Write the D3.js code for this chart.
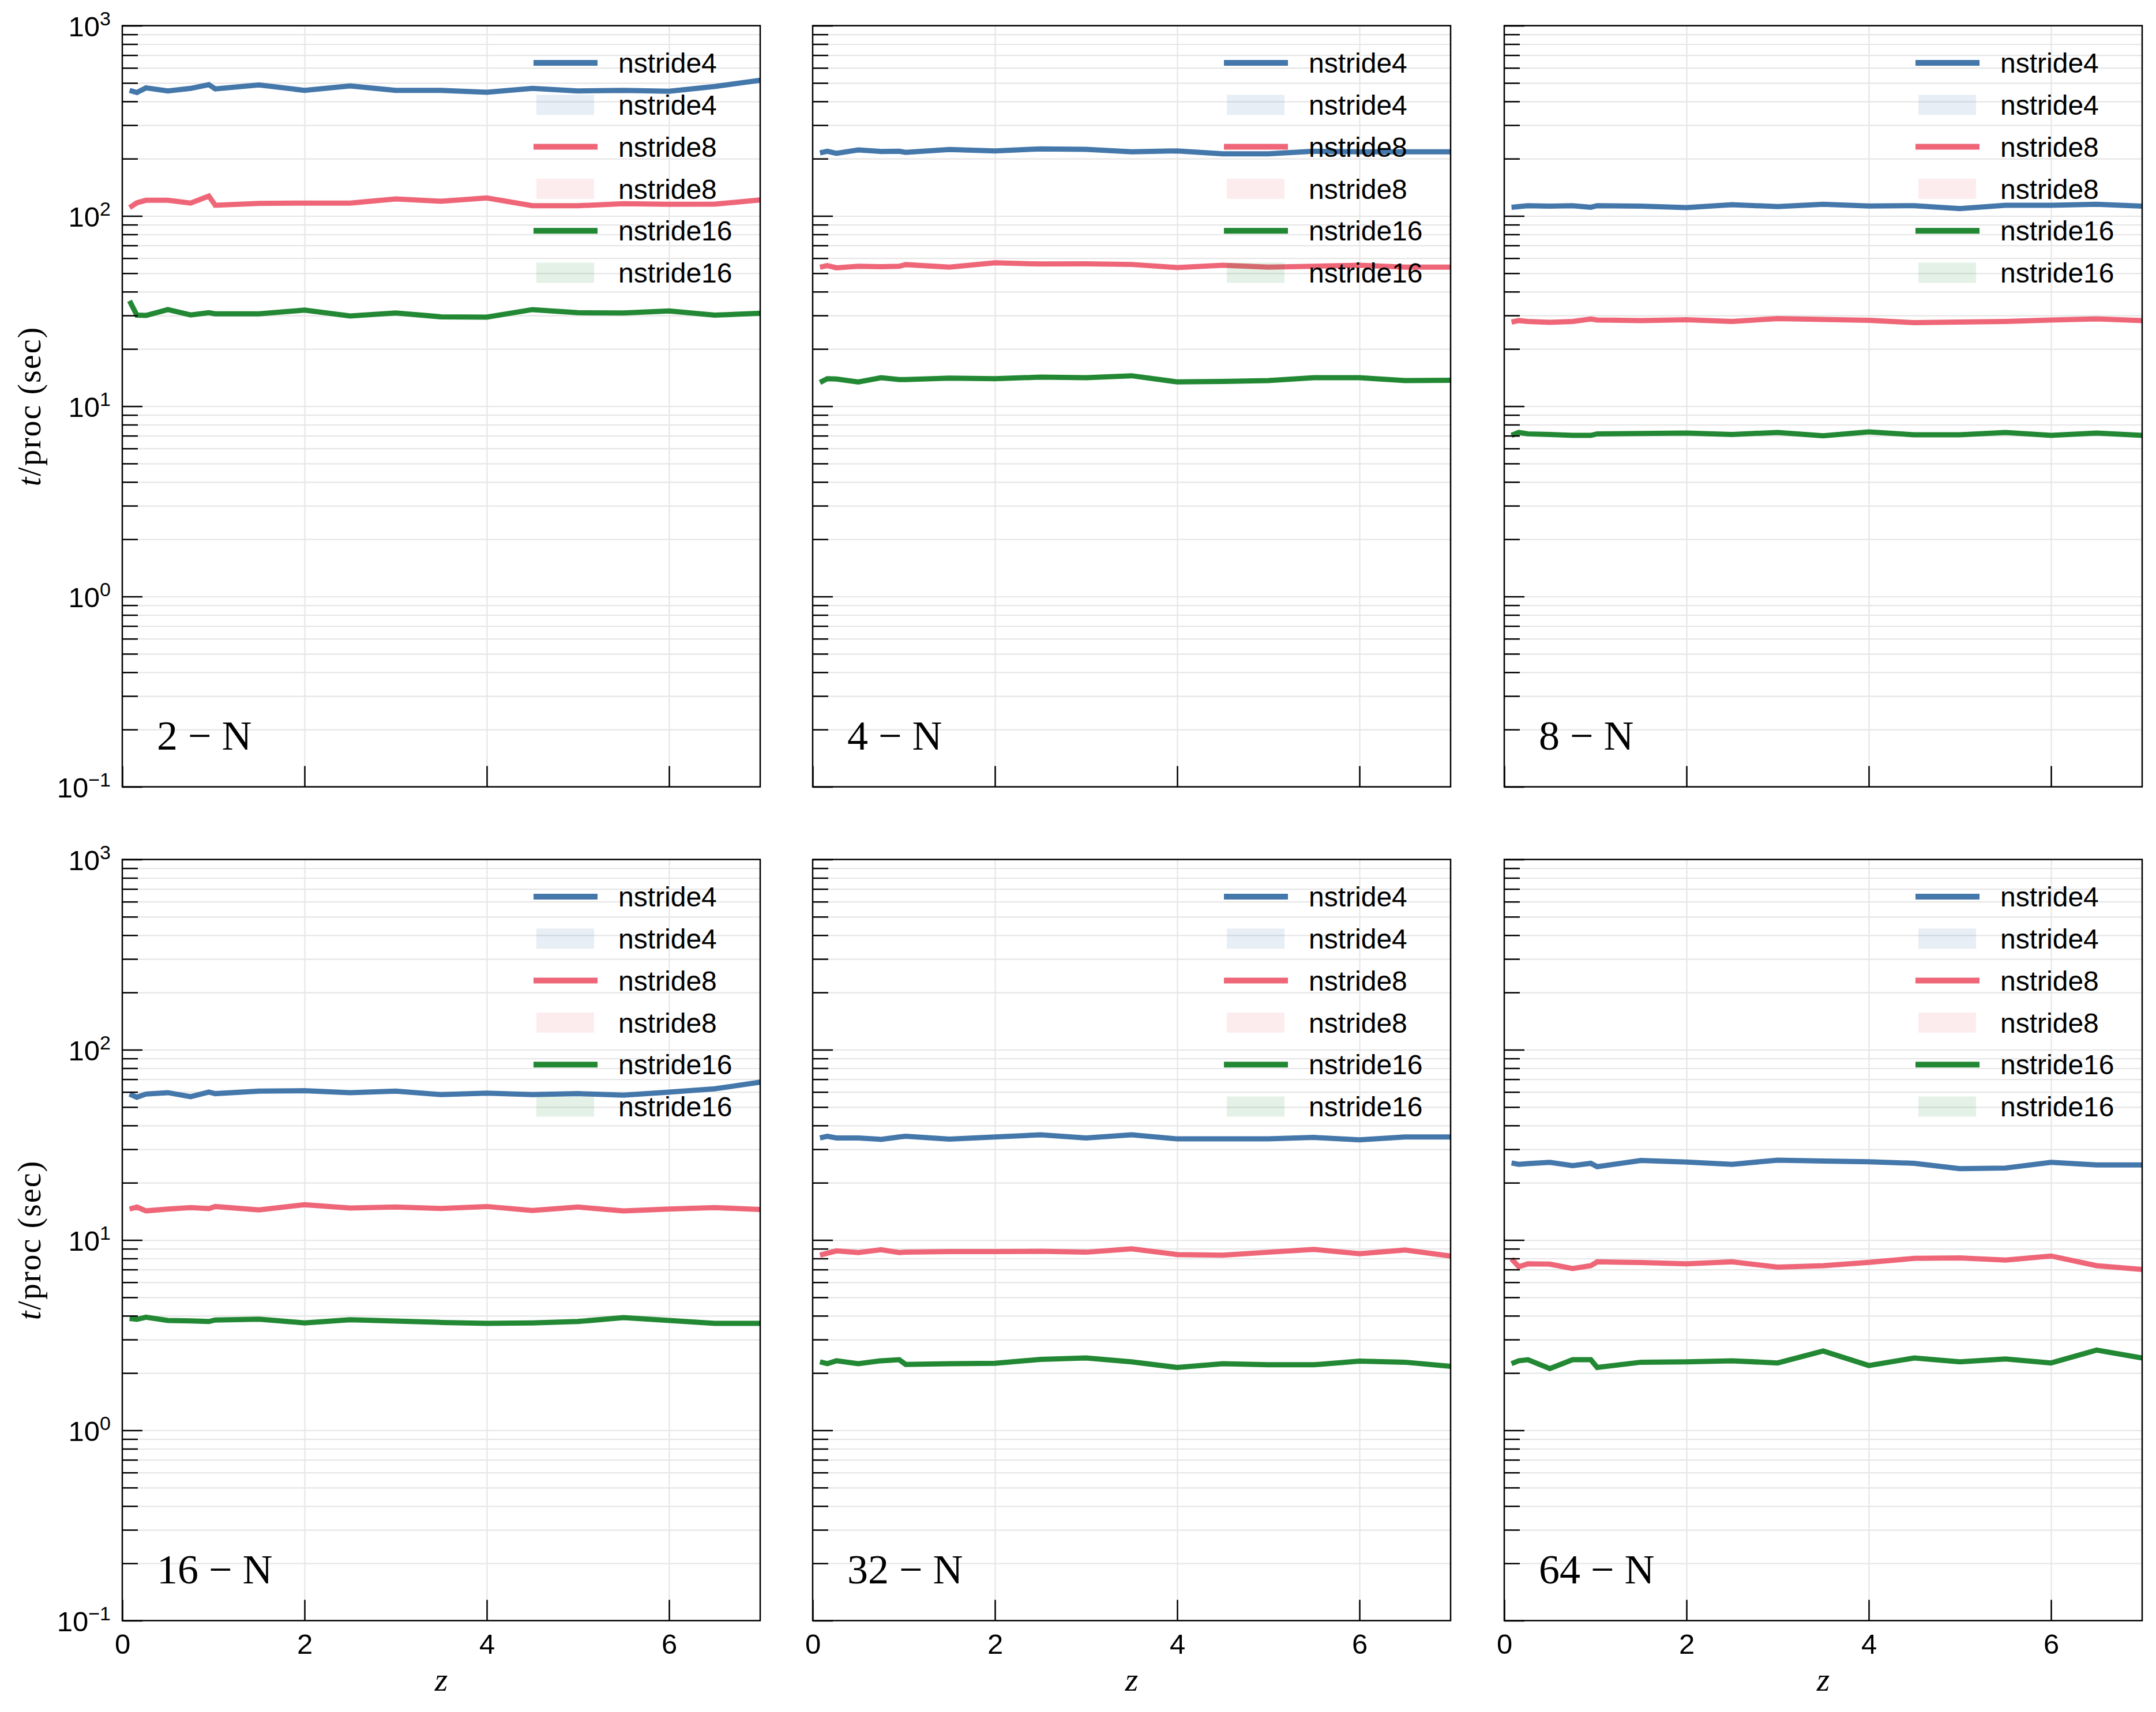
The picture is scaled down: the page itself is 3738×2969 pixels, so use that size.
<!DOCTYPE html>
<html>
<head>
<meta charset="utf-8">
<script src="https://cdn.jsdelivr.net/npm/d3@7"></script>
<style>
  body { margin: 0; background: white; }
  text { fill: black; }
</style>
</head>
<body>
<div id="container"></div>
<script>
// redshift samples shared by every panel
const zValues = [0.08, 0.16, 0.26, 0.5, 0.75, 0.95, 1.02, 1.5, 2, 2.5, 3, 3.5, 4, 4.5, 5, 5.5, 6, 6.5, 7]

const seriesNames = ["nstride4", "nstride8", "nstride16"]
const colors = ["#4477AA", "#EE6677", "#228833"]
const panelLabels = ["2", "4", "8", "16", "32", "64"]
const yTickValues = [0.1, 1, 10, 100, 1000]
const xTickValues = [0, 2, 4, 6]

// t/proc (sec) per panel and stride
const n2_stride4 = [457, 445, 471, 454, 468, 490, 465, 488, 457, 482, 457, 457, 447, 468, 454, 457, 452, 479, 516]
const n2_stride8 = [110.6, 117.2, 120.9, 120.9, 116.8, 127.2, 113.8, 116.4, 116.8, 116.8, 122.9, 119.5, 124.3, 113.2, 113.2, 115.9, 115.1, 115.3, 121.4]
const n2_stride16 = [35.8, 30.1, 30.0, 32.2, 30.2, 31.0, 30.6, 30.6, 32.0, 29.8, 30.9, 29.5, 29.4, 32.2, 31.0, 30.9, 31.7, 30.1, 30.8]

const n4_stride4 = [214.6, 218.8, 213.2, 222.3, 218.2, 218.8, 215.8, 223.5, 219.7, 225.2, 224, 217.2, 219.7, 212.1, 212.1, 218.8, 217.2, 217.2, 217.2]
const n4_stride8 = [53.8, 54.8, 53.4, 54.4, 54.1, 54.4, 55.5, 53.8, 56.7, 55.9, 56.0, 55.6, 53.6, 55.1, 53.8, 54.4, 55.1, 53.8, 53.8]
const n4_stride16 = [13.33, 13.95, 13.9, 13.42, 14.12, 13.8, 13.8, 14.05, 13.95, 14.23, 14.12, 14.46, 13.42, 13.5, 13.64, 14.12, 14.12, 13.64, 13.7]

const n8_stride4 = [111.1, 112, 113.2, 112.5, 113.2, 111.1, 113.2, 112.5, 110.6, 114.6, 112, 115.1, 112.7, 113.2, 109.4, 113.8, 113.8, 115.1, 112.5]
const n8_stride8 = [27.7, 28.2, 27.9, 27.6, 27.9, 28.7, 28.4, 28.2, 28.5, 27.9, 28.9, 28.6, 28.3, 27.5, 27.7, 27.9, 28.4, 28.8, 28.2]
const n8_stride16 = [7.03, 7.28, 7.16, 7.11, 7.03, 7.03, 7.16, 7.19, 7.23, 7.11, 7.28, 7.0, 7.33, 7.08, 7.08, 7.28, 7.03, 7.23, 7.03]

const n16_stride4 = [58.5, 56.3, 58.5, 59.5, 56.7, 59.9, 58.8, 60.6, 60.9, 59.5, 60.6, 58.1, 59.2, 58.1, 58.8, 57.7, 59.9, 62.3, 67.6]
const n16_stride8 = [14.55, 14.9, 14.23, 14.55, 14.8, 14.62, 15.0, 14.39, 15.33, 14.72, 14.9, 14.65, 15.0, 14.3, 14.9, 14.23, 14.55, 14.8, 14.48]
const n16_stride16 = [3.87, 3.83, 3.93, 3.78, 3.76, 3.73, 3.80, 3.84, 3.67, 3.81, 3.75, 3.69, 3.65, 3.67, 3.73, 3.91, 3.78, 3.65, 3.65]

const n32_stride4 = [34.4, 35.1, 34.4, 34.4, 33.8, 34.8, 35.1, 33.9, 34.8, 35.7, 34.4, 35.7, 34.0, 34.0, 34.0, 34.6, 33.6, 34.8, 34.8]
const n32_stride8 = [8.33, 8.53, 8.77, 8.59, 8.89, 8.59, 8.63, 8.69, 8.69, 8.73, 8.63, 8.99, 8.39, 8.33, 8.63, 8.93, 8.47, 8.87, 8.24]
const n32_stride16 = [2.29, 2.24, 2.32, 2.24, 2.32, 2.35, 2.22, 2.24, 2.25, 2.36, 2.40, 2.29, 2.14, 2.24, 2.21, 2.21, 2.31, 2.28, 2.17]

const n64_stride4 = [25.4, 25.0, 25.2, 25.6, 24.6, 25.3, 24.3, 26.2, 25.7, 25.0, 26.3, 26.0, 25.8, 25.3, 23.7, 23.9, 25.6, 24.8, 24.8]
const n64_stride8 = [7.96, 7.24, 7.5, 7.47, 7.08, 7.33, 7.68, 7.62, 7.5, 7.68, 7.21, 7.33, 7.63, 8.01, 8.05, 7.85, 8.24, 7.33, 7.0]
const n64_stride16 = [2.24, 2.32, 2.35, 2.11, 2.35, 2.35, 2.14, 2.28, 2.29, 2.32, 2.26, 2.61, 2.19, 2.40, 2.29, 2.37, 2.26, 2.64, 2.40]

const panelSeries = [
    [n2_stride4, n2_stride8, n2_stride16],
    [n4_stride4, n4_stride8, n4_stride16],
    [n8_stride4, n8_stride8, n8_stride16],
    [n16_stride4, n16_stride8, n16_stride16],
    [n32_stride4, n32_stride8, n32_stride16],
    [n64_stride4, n64_stride8, n64_stride16]
]

const W = 3738, H = 2969
const colLeft = [212, 1409, 2608], rowTop = [44.5, 1490.5]
const pw = 1106, ph = 1320
const sans = "'Liberation Sans', Arial, sans-serif", serif = "'Liberation Serif', 'Times New Roman', serif"

const svg = d3.select("#container").append("svg").attr("width", W).attr("height", H).style("background-color", "white")

const x = d3.scaleLinear().domain([0, 7]).range([0, pw])
const y = d3.scaleLog().domain([0.1, 1000]).range([ph, 0])
const minorTicks = d3.range(-1, 3).flatMap(e => d3.range(2, 10).map(m => m * Math.pow(10, e)))
const allYTicks = yTickValues.concat(minorTicks)
const line = d3.line().x((d, i) => x(zValues[i])).y(d => y(d))

const supers = { "0.1": "−1", "1": "0", "10": "1", "100": "2", "1000": "3" }

panelSeries.forEach((series, p) => {
    const row = Math.floor(p / 3), col = p % 3
    const g = svg.append("g").attr("transform", `translate(${colLeft[col]}, ${rowTop[row]})`)

    g.append("clipPath").attr("id", `clip${p}`).append("rect").attr("width", pw).attr("height", ph)

    // grid
    g.append("g").call(d3.axisLeft(y).tickValues(allYTicks).tickSize(-pw).tickFormat(""))
        .call(a => a.select(".domain").remove())
        .selectAll("line").attr("stroke", "#e6e6e6").attr("stroke-width", 2.2)
    g.append("g").attr("transform", `translate(0, ${ph})`)
        .call(d3.axisBottom(x).tickValues([2, 4, 6]).tickSize(ph).tickFormat(""))
        .call(a => a.select(".domain").remove())
        .selectAll("line").attr("y2", -ph).attr("stroke", "#e6e6e6").attr("stroke-width", 2.2)

    // data
    const lines = g.append("g").attr("clip-path", `url(#clip${p})`)
    series.forEach((s, i) => {
        lines.append("path").datum(s).attr("d", line).attr("fill", "none")
            .attr("stroke", colors[i]).attr("stroke-width", 9).attr("stroke-linejoin", "miter")
    })

    // legend: line + (empty) band patch for each stride
    const leg = g.append("g").attr("font-family", sans).attr("font-size", 48)
    seriesNames.forEach((name, i) => {
        const y1 = 64.5 + (2 * i) * 72.8, y2 = 64.5 + (2 * i + 1) * 72.8
        leg.append("line").attr("x1", 713).attr("x2", 824).attr("y1", y1).attr("y2", y1)
            .attr("stroke", colors[i]).attr("stroke-width", 10)
        leg.append("text").attr("x", 860).attr("y", y1).attr("dy", "0.36em").text(name)
        leg.append("rect").attr("x", 718).attr("y", y2 - 17.5).attr("width", 100).attr("height", 35)
            .attr("fill", colors[i]).attr("fill-opacity", 0.12)
        leg.append("text").attr("x", 860).attr("y", y2).attr("dy", "0.36em").text(name)
    })

    // axes, ticks pointing inward
    const yMajor = g.append("g").call(d3.axisLeft(y).tickValues(yTickValues).tickSize(-35).tickPadding(20)
        .tickFormat(d => col === 0 ? "10" : ""))
    yMajor.select(".domain").remove()
    yMajor.selectAll("line").attr("stroke", "black").attr("stroke-width", 2.5)
    yMajor.selectAll("text").attr("font-family", sans).attr("font-size", 49).attr("dy", "0.36em")
        .each(function (d) {
            if (col !== 0) return
            d3.select(this).append("tspan").attr("font-size", 34).attr("dy", -19).text(supers[String(d)])
        })

    g.append("g").call(d3.axisLeft(y).tickValues(minorTicks).tickSize(-27).tickFormat(""))
        .call(a => a.select(".domain").remove())
        .selectAll("line").attr("stroke", "black").attr("stroke-width", 2.5)

    const xAxis = g.append("g").attr("transform", `translate(0, ${ph})`)
        .call(d3.axisBottom(x).tickValues(xTickValues).tickSize(-36).tickPadding(23)
            .tickFormat(d => row === 1 ? d : ""))
    xAxis.select(".domain").remove()
    xAxis.selectAll("line").attr("stroke", "black").attr("stroke-width", 2.5)
    xAxis.selectAll("text").attr("font-family", sans).attr("font-size", 49)

    g.append("rect").attr("width", pw).attr("height", ph).attr("fill", "none")
        .attr("stroke", "black").attr("stroke-width", 2.5)

    // panel label
    g.append("text").attr("x", 60).attr("y", ph - 65).attr("font-family", serif).attr("font-size", 72)
        .text(`${panelLabels[p]} − N`)

    if (col === 0) {
        const lab = svg.append("text").attr("transform", `translate(70, ${rowTop[row] + ph / 2}) rotate(-90)`)
            .attr("text-anchor", "middle").attr("font-family", serif).attr("font-size", 56).attr("letter-spacing", 2)
        lab.append("tspan").attr("font-style", "italic").text("t")
        lab.append("tspan").text("/proc (sec)")
    }
    if (row === 1) {
        svg.append("text").attr("x", colLeft[col] + pw / 2).attr("y", 2932).attr("text-anchor", "middle")
            .attr("font-family", serif).attr("font-style", "italic").attr("font-size", 58).text("z")
    }
})
</script>
</body>
</html>
